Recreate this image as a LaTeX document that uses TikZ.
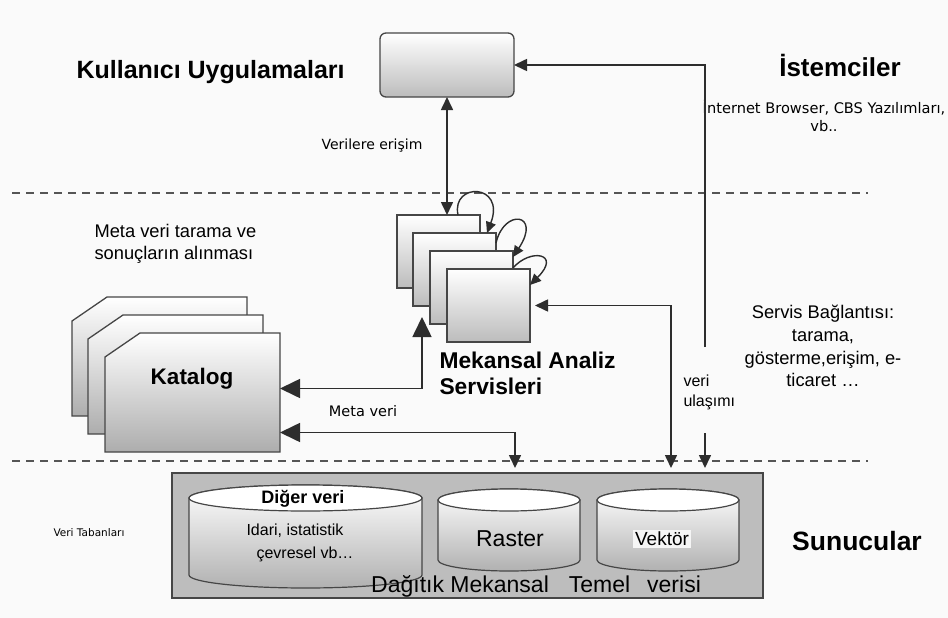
\documentclass[tikz,border=0pt]{standalone}
\usepackage{fontspec}
\setmainfont{Liberation Sans}
\newfontfamily\tahoma{DejaVu Sans}
\usetikzlibrary{arrows.meta,calc}

\definecolor{bgc}{RGB}{250,250,250}
\definecolor{linec}{RGB}{45,45,45}
\definecolor{edgec}{RGB}{70,70,70}
\definecolor{shadec}{RGB}{188,188,188}
\definecolor{dbfill}{RGB}{189,189,189}
\definecolor{dashc}{RGB}{85,85,85}

\tikzset{
  tipbig/.tip={Triangle[length=20pt,width=19pt]},
  tipsmall/.tip={Triangle[length=13pt,width=12pt]},
  tiploop/.tip={Triangle[length=11pt,width=10pt]},
}

% one catalogue sheet with a cut top-left corner: name, left x, top y
\newcommand{\catpage}[3]{%
  \path[pageshade] (#2,-#3-24) -- (#2+35,-#3) -- (#2+175,-#3) -- (#2+175,-#3-119) -- (#2,-#3-119) -- cycle;
  \node[pagebox, anchor=north west] (#1) at (#2,-#3) {};}

% database cylinder: centre x, top y, x radius, y radius, side height
\newcommand{\dbcyl}[5]{%
  \path[cylshade] (#1-#3,-#2) -- (#1-#3,-#2-#5)
    arc[start angle=180,end angle=360,x radius=#3pt,y radius=#4pt]
    -- (#1+#3,-#2) arc[start angle=0,end angle=180,x radius=#3pt,y radius=#4pt] -- cycle;
  \draw[cyltop] (#1,-#2) ellipse[x radius=#3pt,y radius=#4pt];}

\begin{document}
\begin{tikzpicture}[x=1pt,y=1pt,
  conn/.style={draw=linec, line width=1.6pt},
  topbox/.style={draw=edgec, line width=1.3pt, rounded corners=6pt, top color=white, bottom color=shadec,
    minimum width=134pt, minimum height=64pt, inner sep=0pt, outer sep=0pt},
  sqbox/.style={draw=edgec, line width=1.3pt, top color=white, bottom color=shadec,
    minimum width=83pt, minimum height=73pt, inner sep=0pt, outer sep=0pt, anchor=north west},
  pageshade/.style={draw=edgec, line width=1.3pt, top color=white, bottom color=shadec!92!black},
  pagebox/.style={minimum width=175pt, minimum height=119pt, inner sep=0pt, outer sep=0pt},
  dbbox/.style={draw=edgec, line width=1.5pt, fill=dbfill, minimum width=591pt, minimum height=125pt,
    inner sep=0pt, outer sep=0pt, anchor=north west},
  cylshade/.style={draw=edgec, line width=1.2pt, top color=white, bottom color=shadec!94!black},
  cyltop/.style={draw=edgec, line width=1.2pt, fill=white},
  sepline/.style={draw=dashc, line width=1.1pt, dash pattern=on 8pt off 6pt},
]
\useasboundingbox (0,0) rectangle (948,-618);
\fill[bgc] (0,0) rectangle (948,-618);

% tier separators
\draw[sepline] (12,-193) -- (868,-193);
\draw[sepline] (12,-461) -- (868,-461);

% client application
\node[topbox] (top) at (447,-65) {};

% catalogue stack
\catpage{kat1}{72}{297}
\catpage{kat2}{88}{315}
\catpage{kat3}{105}{333}

% spatial analysis service stack
\node[sqbox] (sq1) at (397,-215) {};
\node[sqbox] (sq2) at (413,-233) {};
\node[sqbox] (sq3) at (430,-251) {};
\node[sqbox] (sq4) at (447,-269) {};

% chained service calls
\draw[conn, line width=1.4pt, -{tiploop}] ([xshift=-22pt]sq1.north east) .. controls +(-7,33) and +(19,50) .. ([xshift=-9pt]sq2.north east);
\draw[conn, line width=1.4pt, -{tiploop}] ([yshift=-10pt]sq2.north east) .. controls +(8,35) and +(29,44) .. ([yshift=-6pt]sq3.north east);
\draw[conn, line width=1.4pt, -{tiploop}] ([yshift=-17pt]sq3.north east) .. controls +(17,20) and +(32,32) .. ([yshift=-16pt]sq4.north east);

% server side data stores
\node[dbbox] (db) at (172,-473) {};
\dbcyl{305.5}{498}{116.5}{13}{77}
\dbcyl{509}{500}{71}{11}{60}
\dbcyl{668}{500}{71}{11}{60}

% labels
\node[anchor=base west, font=\fontsize{25}{29}\selectfont\bfseries] (tUser) at (73,-78) {Kullanıcı Uygulamaları};
\node[anchor=base, font=\fontsize{26}{30}\selectfont\bfseries] (tClient) at (840,-77) {İstemciler};
\node[align=center, font=\tahoma\fontsize{14.6}{18}\selectfont] (tBrowser) at (824,-116) {İnternet Browser, CBS Yazılımları,\\vb..};
\node[font=\tahoma\fontsize{14}{17}\selectfont] (tAccess) at (372,-146) {Verilere erişim};
\node[anchor=west, align=left, font=\fontsize{18.3}{22}\selectfont] (tMetaScan) at (91,-244) {Meta veri tarama ve\\sonuçların alınması};
\node[font=\fontsize{22.5}{27}\selectfont\bfseries] (tKat) at (192,-379) {Katalog};
\node[anchor=west, align=left, font=\fontsize{22.8}{26}\selectfont\bfseries] (tMas) at (436,-373) {Mekansal Analiz\\Servisleri};
\node[font=\tahoma\fontsize{14.5}{17}\selectfont] (tMeta) at (363,-411) {Meta veri};
\node[anchor=west, align=left, font=\fontsize{16}{20}\selectfont] (tVeri) at (680,-392) {veri\\ulaşımı};
\node[align=center, font=\fontsize{18.3}{22.7}\selectfont] (tServ) at (823,-346) {Servis Bağlantısı:\\tarama,\\gösterme,erişim, e-\\ticaret …};
\node[font=\tahoma\fontsize{10.5}{13}\selectfont] (tDb) at (89,-533) {Veri Tabanları};
\node[anchor=base, font=\fontsize{26.5}{30}\selectfont\bfseries] (tServer) at (857,-550) {Sunucular};
\node[font=\fontsize{18}{22}\selectfont\bfseries] (tOther) at (303,-499) {Diğer veri};
\node[anchor=west, align=left, font=\fontsize{16}{23}\selectfont] (tIdari) at (243,-543) {Idari, istatistik\\\hspace*{10pt}çevresel vb…};
\node[font=\fontsize{23}{27}\selectfont] (tRaster) at (510,-539) {Raster};
\node[fill=gray!8, inner sep=2pt, font=\fontsize{19}{23}\selectfont] (tVek) at (662,-539) {Vektör};
\node[anchor=base west, inner sep=0pt, font=\fontsize{23}{27}\selectfont] (tDist) at (371,-592) {Dağıtık Mekansal\hspace{20pt}Temel\hspace{17pt}verisi};

% connectors
\coordinate (cj1) at (705,-347);
\coordinate (cj2) at (705,-433);
\coordinate (vx) at (671,-433);
\coordinate (mx) at (515,-433);
\coordinate (upx) at (422,-317);

\draw[conn, {tipsmall}-{tipsmall}] (top.south) -- (top.south |- sq1.north);
\draw[conn, -{tipsmall}] (cj1) |- (top.east);
\draw[conn, -{tipsmall}, shorten >=5pt] (cj2) -- (cj2 |- db.north);
\draw[conn, {tipsmall}-{tipsmall}, shorten <=5pt, shorten >=5pt] (sq4.east) -| (vx |- db.north);
\draw[conn, {tipbig}-{tipbig}] ([yshift=4pt]kat3.east) -| (upx);
\draw[conn, {tipbig}-{tipsmall}, shorten >=5pt] ([yshift=-40pt]kat3.east) -| (mx |- db.north);
\end{tikzpicture}
\end{document}
